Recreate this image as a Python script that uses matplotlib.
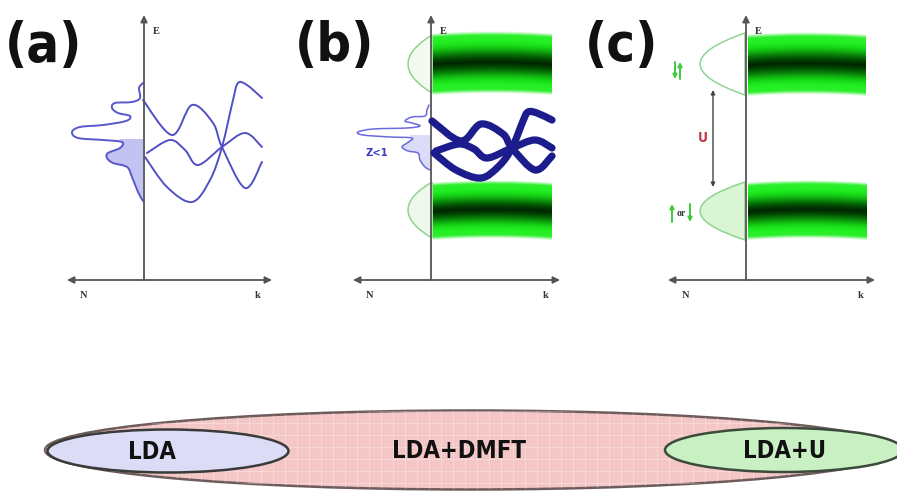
import numpy as np
import matplotlib.pyplot as plt
from matplotlib import font_manager as fm
from matplotlib.path import Path
from matplotlib.patches import PathPatch, Ellipse
from matplotlib.colors import LinearSegmentedColormap

# canvas works in pixel units, y pointing down
W, H = 897, 492
SERIF = ['Liberation Serif', 'DejaVu Serif']

# pick a narrow bold sans if one is around, otherwise Roboto
_fonts = fm.fontManager.ttflist
_names = {f.name for f in _fonts}
if 'Liberation Sans Narrow' in _names:
    NARROW = dict(family=['Liberation Sans Narrow', 'DejaVu Sans'])
    NARROW_SCALE = 1.0
elif any(f.name == 'DejaVu Sans' and f.stretch == 'condensed' for f in _fonts):
    NARROW = dict(family=['DejaVu Sans'], stretch='condensed')
    NARROW_SCALE = 0.9
else:
    NARROW = dict(family=['Roboto', 'DejaVu Sans'])
    NARROW_SCALE = 0.88

# panel axes: (vertical axis x, left arrow tip, right arrow tip)
PANEL_AXES = {'a': (144, 67, 272), 'b': (431, 353, 560), 'c': (746, 668, 875)}
AXIS_TOP, AXIS_Y = 15, 280
PANEL_LABEL_X = {'a': 5, 'b': 295, 'c': 585}

# (a) DOS outline, left of the axis
DOS_A_X = [143, 139, 140, 132, 115, 112, 118, 130, 126, 103, 80, 72, 78, 103, 122, 120, 108, 107, 113, 127, 132, 138, 143]
DOS_A_Y = [83, 88, 98, 102, 103, 108, 113, 116, 121, 125, 127, 132, 138, 140, 142, 148, 153, 158, 163, 167, 177, 192, 201]
DOS_A_SHADE_FROM = 14

# (a) band structure
BANDS_A = [
    ([143, 172, 192, 213, 222, 245, 262], [100, 135, 105, 123, 147, 188, 162]),
    ([147, 170, 185, 198, 222, 245, 262], [153, 140, 150, 165, 147, 133, 147]),
    ([145, 167, 192, 210, 222, 233, 238, 247, 262], [157, 187, 202, 180, 147, 100, 83, 85, 98]),
]

# (b) quasiparticle DOS (Z<1)
DOS_B_X = [429, 427, 425, 412, 405, 412, 420, 407, 373, 358, 363, 390, 412, 407, 402, 408, 418, 420, 425, 430]
DOS_B_Y = [105, 110, 116, 117, 121, 123, 126, 128, 129, 132, 135, 137, 138, 143, 147, 151, 153, 160, 167, 170]
DOS_B_SHADE_FROM = 12

# (b) renormalised bands
BANDS_B = [
    ([432, 461, 481, 503, 512, 535, 552], [121, 141, 124, 134, 148, 170, 156]),
    ([436, 459, 474, 487, 512, 535, 552], [151, 144, 149, 158, 148, 140, 148]),
    ([434, 456, 481, 499, 512, 523, 528, 537, 552], [153, 170, 178, 166, 148, 121, 112, 113, 120]),
]

# Hubbard bands: x0, x1, centre y, half height
HUBBARD_BANDS = [
    (433, 552, 65, 31),
    (433, 552, 212, 29),
    (748, 866, 66, 31),
    (748, 867, 212, 29),
]
BAND_SAG = 2

# side lobes: axis x, top y, bottom y, leftmost x, fill
LOBES = [
    (432, 35, 93, 408, '#f3fbf0'),
    (432, 182, 238, 408, '#eef8ec'),
    (745, 33, 95, 700, 'white'),
    (745, 182, 240, 700, '#d9f5d3'),
]

# method ellipses: centre x, centre y, width, height, face, edge, label, label x
METHODS = [
    (470, 450, 850, 79, '#f5c6c6', '#6d5a5a', 'LDA+DMFT', 459),
    (168, 451, 241, 43, '#dcdcf6', '#3a3a3a', 'LDA', 152),
    (784, 450, 238, 44, '#c9f0c2', '#3b4a3b', 'LDA+U', 785),
]


def smooth_verts(xs, ys):
    pts = np.column_stack([xs, ys]).astype(float)
    verts, codes = [pts[0]], [Path.MOVETO]
    for i in range(len(pts) - 1):
        p0 = pts[i - 1] if i > 0 else pts[i]
        p1, p2 = pts[i], pts[i + 1]
        p3 = pts[i + 2] if i + 2 < len(pts) else pts[i + 1]
        verts += [p1 + (p2 - p0) / 6, p2 - (p3 - p1) / 6, p2]
        codes += [Path.CURVE4] * 3
    return verts, codes


def draw_curve(ax, xs, ys, color, lw, z=3):
    v, c = smooth_verts(xs, ys)
    ax.add_patch(PathPatch(Path(v, c), fill=False, edgecolor=color, lw=lw,
                           capstyle='round', joinstyle='round', zorder=z))


def shade_dos(ax, xs, ys, start, axis_x, color):
    v, c = smooth_verts(xs[start:], ys[start:])
    top = ys[start] - 3
    v += [(axis_x, ys[-1]), (axis_x, top), (xs[start] - 3, top), v[0]]
    c += [Path.LINETO] * 3 + [Path.CLOSEPOLY]
    ax.add_patch(PathPatch(Path(v, c), facecolor=color, edgecolor='none', zorder=2))


band_cmap = LinearSegmentedColormap.from_list('band', [
    (0.00, '#002600'), (0.12, '#004200'), (0.28, '#087a08'),
    (0.42, '#10b410'), (0.55, '#18dc18'), (0.70, '#22f022'), (1.00, '#34ee34')])


def draw_band(ax, x0, x1, yc, hh):
    xs = np.arange(x0, x1 + 1, 0.5)
    ys = np.arange(yc - hh - BAND_SAG - 2, yc + hh + 2, 0.5)
    xm, hw = (x0 + x1) / 2, (x1 - x0) / 2
    centre = yc - BAND_SAG * (1 - ((xs - xm) / hw) ** 2)
    d = np.abs(ys[:, None] - centre[None, :]) / hh
    rgba = band_cmap(np.clip(d, 0, 1))
    rgba[..., 3] = np.clip((1.0 - d) * 8, 0, 1)
    ax.imshow(rgba, extent=(x0, x1, ys[-1], ys[0]), origin='upper',
              interpolation='bilinear', zorder=1, aspect='auto')


fig = plt.figure(figsize=(W / 100, H / 100), dpi=100)
ax = fig.add_axes([0, 0, 1, 1])
ax.set_xlim(0, W)
ax.set_ylim(H, 0)
ax.axis('off')

for x0, x1, yc, hh in HUBBARD_BANDS:
    draw_band(ax, x0, x1, yc, hh)

for ax_x, y0, y1, xl, face in LOBES:
    ctrl = (2 * xl - ax_x, (y0 + y1) / 2)
    p = Path([(ax_x, y0), ctrl, (ax_x, y1), (ax_x, y0)],
             [Path.MOVETO, Path.CURVE3, Path.CURVE3, Path.CLOSEPOLY])
    ax.add_patch(PathPatch(p, facecolor=face, edgecolor='#8fd48f', lw=1.1, zorder=2))

# axes of each panel
for key, (vx, lx, rx) in PANEL_AXES.items():
    ax.annotate('', xy=(vx, AXIS_TOP), xytext=(vx, AXIS_Y),
                arrowprops=dict(arrowstyle='-|>', color='#555555', lw=1.3,
                                mutation_scale=10, shrinkA=0, shrinkB=0), zorder=4)
    ax.annotate('', xy=(lx, AXIS_Y), xytext=(rx, AXIS_Y),
                arrowprops=dict(arrowstyle='<|-|>', color='#555555', lw=1.3,
                                mutation_scale=10, shrinkA=0, shrinkB=0), zorder=4)
    ax.text(vx + 9, 31, 'E', fontsize=7.5, family=SERIF, fontweight='bold',
            color='#333333', ha='left', va='center')
    ax.text(lx + 17, 296, 'N', fontsize=7.5, family=SERIF, fontweight='bold',
            color='#333333', ha='center', va='center')
    ax.text(rx - 14, 296, 'k', fontsize=7.5, family=SERIF, fontweight='bold',
            color='#333333', ha='center', va='center')
    ax.text(PANEL_LABEL_X[key], 46, f'({key})', fontsize=39,
            fontweight='bold', color='#111111', ha='left', va='center', **NARROW)

# (a) LDA picture
shade_dos(ax, DOS_A_X, DOS_A_Y, DOS_A_SHADE_FROM, 143, '#c3c3f3')
draw_curve(ax, DOS_A_X, DOS_A_Y, '#5858cc', 1.4)
for bx, by in BANDS_A:
    draw_curve(ax, bx, by, '#5050c4', 1.4)

# (b) LDA+DMFT picture
shade_dos(ax, DOS_B_X, DOS_B_Y, DOS_B_SHADE_FROM, 430, '#dcdcf8')
draw_curve(ax, DOS_B_X, DOS_B_Y, '#6a6ade', 1.1)
for bx, by in BANDS_B:
    draw_curve(ax, bx, by, '#1c1c8c', 5.2, z=5)
ax.text(377, 153, 'Z<1', fontsize=8, fontweight='bold',
        color='#3a3ac4', ha='center', va='center', **NARROW)

# (c) LDA+U picture
ax.annotate('', xy=(713, 90), xytext=(713, 187),
            arrowprops=dict(arrowstyle='<|-|>', color='#444444', lw=1.0,
                            mutation_scale=6, shrinkA=0, shrinkB=0))
ax.text(703, 138, 'U', fontsize=10, fontweight='bold', color='#c43a4a',
        ha='center', va='center', **NARROW)
green_arrows = [((675, 62), (675, 79)), ((680, 79), (680, 62)),
                ((672, 222), (672, 204)), ((690, 204), (690, 222))]
for start, end in green_arrows:
    ax.annotate('', xy=end, xytext=start,
                arrowprops=dict(arrowstyle='-|>', color='#3ccc3c', lw=1.4,
                                mutation_scale=6, shrinkA=0, shrinkB=0))
ax.text(681, 214, 'or', fontsize=7, family=SERIF, fontweight='bold',
        color='#333333', ha='center', va='center')

# method ellipses along the bottom
for i, (cx, cy, w, h, face, edge, label, tx) in enumerate(METHODS):
    e = Ellipse((cx, cy), w, h, facecolor=face, edgecolor=edge, lw=1.8, zorder=6 + i)
    ax.add_patch(e)
    if i == 0:
        for gx in np.arange(cx - w / 2, cx + w / 2, 12):
            ax.plot([gx, gx], [cy - h / 2, cy + h / 2], color='white', lw=0.6,
                    alpha=0.35, zorder=6, clip_path=e)
        for gy in np.arange(cy - h / 2, cy + h / 2, 12):
            ax.plot([cx - w / 2, cx + w / 2], [gy, gy], color='white', lw=0.6,
                    alpha=0.35, zorder=6, clip_path=e)
    ax.text(tx, cy + 1, label, fontsize=19 * NARROW_SCALE, fontweight='bold',
            color='#111111', ha='center', va='center', zorder=10, **NARROW)

fig.savefig('out.png', dpi=100)
